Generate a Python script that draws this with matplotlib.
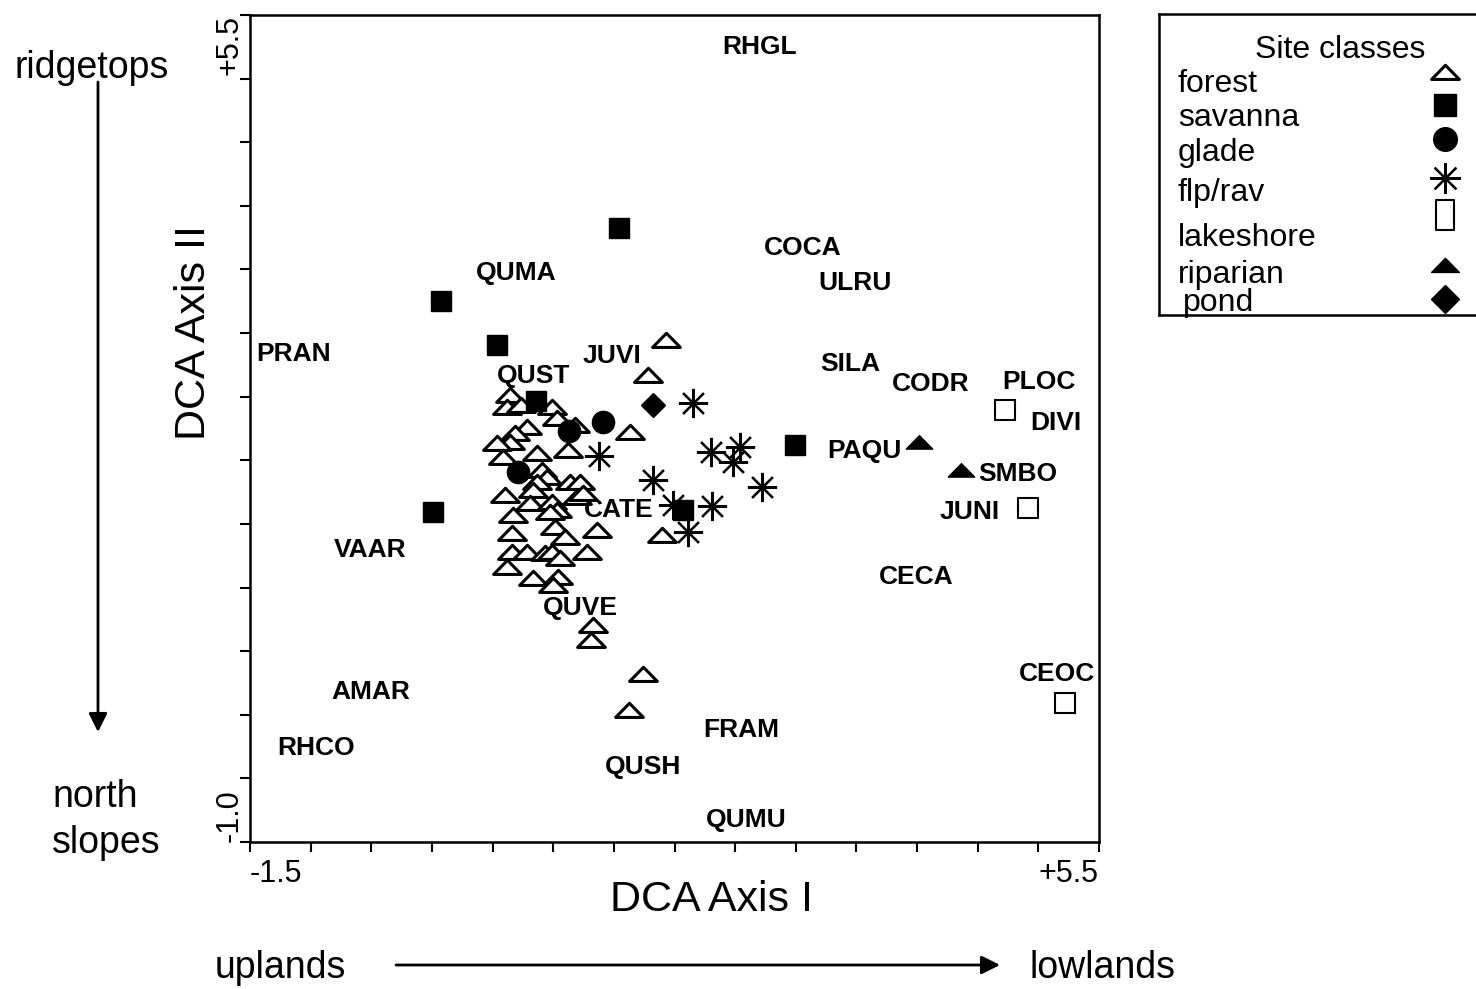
import numpy as np
import matplotlib
matplotlib.use("Agg")
import matplotlib.pyplot as plt
from matplotlib.path import Path

plt.rcParams['font.family'] = ['Liberation Sans', 'DejaVu Sans']

W, H = 1476, 989

# site scores (DCA axis I, DCA axis II)
forest_x = [1.930, 1.782, 1.633, 0.644, 0.619, 0.734, 0.990, 1.031, 1.180, 0.784,
            0.685, 0.644, 0.537, 0.866, 0.586, 1.122, 0.908, 0.949, 1.138, 1.221,
            0.866, 0.602, 0.833, 0.809, 0.990, 1.031, 0.974, 1.196, 1.246, 0.668,
            1.015, 1.097, 1.361, 0.660, 0.660, 0.784, 0.932, 0.990, 1.056, 1.279,
            0.619, 0.833, 1.039, 0.998, 1.897, 1.328, 1.312, 1.740, 1.625]
forest_y = [2.945, 2.670, 2.222, 2.513, 2.419, 2.435, 2.419, 2.332, 2.277, 2.262,
            2.215, 2.144, 2.136, 2.057, 2.026, 2.081, 1.924, 1.869, 1.829, 1.829,
            1.829, 1.727, 1.767, 1.664, 1.672, 1.609, 1.594, 1.712, 1.743, 1.570,
            1.476, 1.397, 1.452, 1.429, 1.279, 1.279, 1.271, 1.279, 1.232, 1.279,
            1.161, 1.075, 1.083, 1.020, 1.413, 0.705, 0.588, 0.320, 0.037]

savanna_x = [1.543, 0.075, 0.536, 0.858, 0.009, 2.994, 2.070]
savanna_y = [3.826, 3.252, 2.906, 2.466, 1.594, 2.120, 1.609]

glade_x = [1.411, 1.131, 0.709]
glade_y = [2.301, 2.230, 1.908]

flprav_x = [2.152, 1.378, 2.301, 2.540, 2.482, 2.722, 1.823, 1.988, 2.309, 2.111]
flprav_y = [2.450, 2.034, 2.065, 2.105, 1.987, 1.790, 1.845, 1.649, 1.641, 1.436]

lake_x = [4.725, 4.915, 5.220]
lake_y = [2.395, 1.625, 0.092]

ripar_x = [4.016, 4.362]
ripar_y = [2.144, 1.924]

pond_x = [1.823]
pond_y = [2.435]

# species scores
species = ['RHGL', 'COCA', 'ULRU', 'QUMA', 'PRAN', 'JUVI', 'QUST', 'SILA', 'CODR',
           'PLOC', 'DIVI', 'PAQU', 'SMBO', 'JUNI', 'CATE', 'VAAR', 'CECA', 'QUVE',
           'AMAR', 'CEOC', 'RHCO', 'FRAM', 'QUSH', 'QUMU']
sp_x = [2.705, 3.059, 3.488, 0.693, -1.137, 1.485, 0.842, 3.447, 4.115,
        5.005, 5.145, 3.562, 4.832, 4.436, 1.543, -0.511, 3.991, 1.221,
        -0.502, 5.154, -0.956, 2.548, 1.740, 2.590]
sp_y = [5.248, 3.669, 3.394, 3.472, 2.835, 2.820, 2.663, 2.757, 2.600,
        2.615, 2.293, 2.073, 1.892, 1.594, 1.609, 1.295, 1.083, 0.839,
        0.179, 0.320, -0.261, -0.120, -0.411, -0.827]

classes = ['forest', 'savanna', 'glade', 'flp/rav', 'lakeshore', 'riparian', 'pond']

# flat triangle marker like in the print
flat_tri = Path([(-1, -0.5), (1, -0.5), (0, 0.52), (-1, -0.5)],
                [Path.MOVETO, Path.LINETO, Path.LINETO, Path.CLOSEPOLY])
tall_box = Path([(-0.62, -1), (0.62, -1), (0.62, 1), (-0.62, 1), (-0.62, -1)],
                [Path.MOVETO, Path.LINETO, Path.LINETO, Path.LINETO, Path.CLOSEPOLY])

fig = plt.figure(figsize=(W / 100, H / 100), dpi=100)
ax = fig.add_axes([250 / W, 1 - 842 / H, (1099 - 250) / W, (842 - 15) / H])

ax.plot(forest_x, forest_y, ls='none', marker=flat_tri, ms=20, mfc='white',
        mec='black', mew=2.2, zorder=2)
ax.plot(flprav_x, flprav_y, ls='none', marker=(8, 2, 0), ms=21, mec='black',
        mew=1.6, zorder=3)
ax.plot(savanna_x, savanna_y, ls='none', marker='s', ms=15, mfc='black',
        mec='black', zorder=4)
ax.plot(glade_x, glade_y, ls='none', marker='o', ms=16, mfc='black',
        mec='black', zorder=4)
ax.plot(pond_x, pond_y, ls='none', marker='D', ms=12, mfc='black',
        mec='black', zorder=4)
ax.plot(lake_x, lake_y, ls='none', marker='s', ms=15, mfc='white',
        mec='black', mew=1.5, zorder=4)
ax.plot(ripar_x, ripar_y, ls='none', marker=flat_tri, ms=19, mfc='black',
        mec='black', zorder=4)

for name, x, y in zip(species, sp_x, sp_y):
    ax.text(x, y, name, ha='center', va='center', fontsize=19,
            fontweight='bold', zorder=5)

ax.set_xlim(-1.5, 5.5)
ax.set_ylim(-1.0, 5.5)
xt = np.arange(-1.5, 5.51, 0.5)
yt = np.arange(-1.0, 5.51, 0.5)
ax.set_xticks(xt)
ax.set_yticks(yt)
ax.set_xticklabels(['-1.5'] + [''] * (len(xt) - 2) + ['+5.5'], fontsize=22)
ax.set_yticklabels(['-1.0'] + [''] * (len(yt) - 2) + ['+5.5'], fontsize=22,
                   rotation=90)
xl = ax.get_xticklabels()
xl[0].set_ha('left')
xl[-1].set_ha('right')
yl = ax.get_yticklabels()
yl[0].set_va('bottom')
yl[-1].set_va('top')
ax.tick_params(direction='out', length=7, width=1.5, pad=5)
ax.tick_params(axis='y', pad=-3)
for s in ax.spines.values():
    s.set_linewidth(1.8)

ax.set_xlabel('DCA Axis I', fontsize=31)
ax.xaxis.set_label_coords((712 - 250) / 849, -(880 - 842) / 827)
ax.set_ylabel('DCA Axis II', fontsize=31)
ax.yaxis.set_label_coords(-36 / 849, 1 - (332 - 15) / 827)

# side annotations
fig.text(92 / W, 1 - 68 / H, 'ridgetops', fontsize=27, ha='center', va='center')
fig.text(52 / W, 1 - 797 / H, 'north', fontsize=27, ha='left', va='center')
fig.text(52 / W, 1 - 843 / H, 'slopes', fontsize=27, ha='left', va='center')
fig.text(215 / W, 1 - 968 / H, 'uplands', fontsize=27, ha='left', va='center')
fig.text(1030 / W, 1 - 968 / H, 'lowlands', fontsize=27, ha='left', va='center')
ax.annotate('', xy=(98, H - 732), xytext=(98, H - 82), xycoords='figure pixels',
            textcoords='figure pixels',
            arrowprops=dict(arrowstyle='-|>', lw=2, color='black',
                            mutation_scale=28, shrinkA=0, shrinkB=0))
ax.annotate('', xy=(1000, H - 965), xytext=(396, H - 965), xycoords='figure pixels',
            textcoords='figure pixels',
            arrowprops=dict(arrowstyle='-|>', lw=2, color='black',
                            mutation_scale=28, shrinkA=0, shrinkB=0))

# legend box
lax = fig.add_axes([1159 / W, 1 - 315 / H, (1476 - 1159) / W, (315 - 14) / H])
lax.set_xlim(1159, 1476)
lax.set_ylim(315, 14)
lax.set_xticks([])
lax.set_yticks([])
lax.spines['right'].set_visible(False)
for s in ['left', 'top', 'bottom']:
    lax.spines[s].set_linewidth(1.8)
lax.text(1340, 50, 'Site classes', fontsize=23, ha='center', va='center')
label_y = [84, 118, 153, 193, 238, 275, 303]
label_x = [1178, 1178, 1178, 1178, 1178, 1178, 1183]
for c, lx, ly in zip(classes, label_x, label_y):
    lax.text(lx, ly, c, fontsize=23, ha='left', va='center')
mx = 1445
lax.plot(mx, 72, marker=flat_tri, ms=20, mfc='white', mec='black', mew=2.2)
lax.plot(mx, 105, marker='s', ms=16, mfc='black', mec='black')
lax.plot(mx, 139, marker='o', ms=17, mfc='black', mec='black')
lax.plot(mx, 178, marker=(8, 2, 0), ms=22, mec='black', mew=1.6)
lax.plot(mx, 215, marker=tall_box, ms=22, mfc='white', mec='black', mew=1.5)
lax.plot(mx, 265, marker=flat_tri, ms=20, mfc='black', mec='black')
lax.plot(mx, 299, marker='D', ms=14, mfc='black', mec='black')

fig.savefig('out.png', dpi=100)
